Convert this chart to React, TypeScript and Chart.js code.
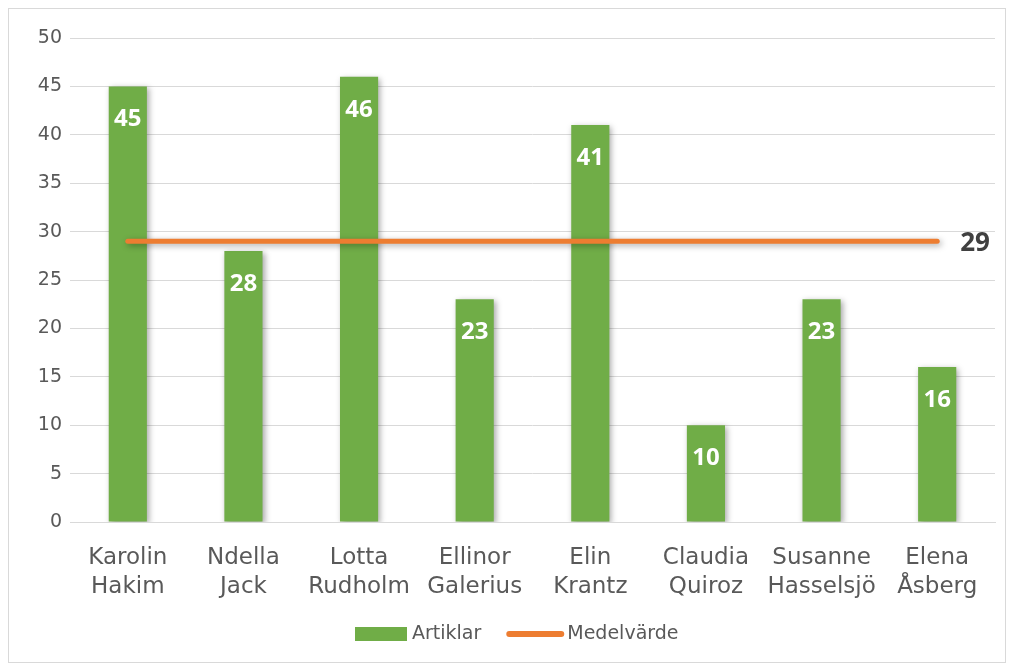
import React, { useEffect, useRef } from "react";
import { Chart, registerables } from "chart.js";

Chart.register(...registerables);

const categories: string[][] = [
  ["Karolin", "Hakim"],
  ["Ndella", "Jack"],
  ["Lotta", "Rudholm"],
  ["Ellinor", "Galerius"],
  ["Elin", "Krantz"],
  ["Claudia", "Quiroz"],
  ["Susanne", "Hasselsjö"],
  ["Elena", "Åsberg"],
];
const articles: number[] = [45, 28, 46, 23, 41, 10, 23, 16];
const average: number[] = [29, 29, 29, 29, 29, 29, 29, 29];
const seriesNames: string[] = ["Artiklar", "Medelvärde"];
const yTicks = { min: 0, max: 50, step: 5 };

const GREEN = "#70AD47";
const ORANGE = "#ED7D31";
const TEXT = "#595959";

export default function App() {
  const ref = useRef<HTMLCanvasElement | null>(null);

  useEffect(() => {
    if (!ref.current) return;

    const shadowPlugin = {
      id: "shadows",
      beforeDatasetDraw(chart: any) {
        const ctx = chart.ctx;
        ctx.save();
        ctx.shadowColor = "rgba(0,0,0,0.35)";
        ctx.shadowBlur = 6;
        ctx.shadowOffsetX = 2;
        ctx.shadowOffsetY = 2;
      },
      afterDatasetDraw(chart: any) {
        chart.ctx.restore();
      },
    };

    const labelPlugin = {
      id: "valueLabels",
      afterDatasetsDraw(chart: any) {
        const ctx = chart.ctx;
        ctx.save();
        const barMeta = chart.getDatasetMeta(0);
        ctx.fillStyle = "#ffffff";
        ctx.font = "bold 24px 'Open Sans'";
        ctx.textAlign = "center";
        ctx.textBaseline = "middle";
        barMeta.data.forEach((el: any, i: number) => {
          ctx.fillText(String(articles[i]), el.x, el.y + 33);
        });
        const lineMeta = chart.getDatasetMeta(1);
        const last = lineMeta.data[lineMeta.data.length - 1];
        ctx.fillStyle = "#404040";
        ctx.font = "bold 26px 'Open Sans'";
        ctx.textAlign = "left";
        ctx.fillText(String(average[average.length - 1]), last.x + 23, last.y + 2);
        ctx.restore();
      },
    };

    const legendPlugin = {
      id: "customLegend",
      afterDraw(chart: any) {
        const ctx = chart.ctx;
        ctx.save();
        ctx.font = "19px 'DejaVu Sans'";
        ctx.textBaseline = "middle";
        ctx.textAlign = "left";
        const cy = 625;
        let x = 346;
        // bar entry
        ctx.fillStyle = GREEN;
        ctx.fillRect(x, cy - 7, 52, 14);
        x += 52 + 5;
        ctx.fillStyle = TEXT;
        ctx.fillText(seriesNames[0], x, cy);
        x += ctx.measureText(seriesNames[0]).width + 28;
        // line entry
        ctx.strokeStyle = ORANGE;
        ctx.lineWidth = 6;
        ctx.lineCap = "round";
        ctx.beginPath();
        ctx.moveTo(x, cy);
        ctx.lineTo(x + 52, cy);
        ctx.stroke();
        x += 52 + 6;
        ctx.fillStyle = TEXT;
        ctx.fillText(seriesNames[1], x, cy);
        ctx.restore();
      },
    };

    const chart = new Chart(ref.current, {
      type: "bar",
      data: {
        labels: categories,
        datasets: [
          {
            type: "bar",
            label: seriesNames[0],
            data: articles,
            backgroundColor: GREEN,
            borderWidth: 0,
            categoryPercentage: 1,
            barPercentage: 0.33,
            order: 1,
          },
          {
            type: "line",
            label: seriesNames[1],
            data: average,
            borderColor: ORANGE,
            backgroundColor: ORANGE,
            borderWidth: 5,
            borderCapStyle: "round",
            pointRadius: 0,
            pointHoverRadius: 0,
            order: 0,
          } as any,
        ],
      },
      options: {
        animation: false,
        responsive: false,
        maintainAspectRatio: false,
        layout: { padding: { top: 29, right: 10, bottom: 52, left: 0 } },
        plugins: {
          tooltip: { enabled: false },
          legend: { display: false },
        },
        scales: {
          x: {
            grid: { display: false },
            border: { display: true, color: "#d9d9d9", width: 1 },
            ticks: {
              color: TEXT,
              font: { family: "'DejaVu Sans'", size: 23, lineHeight: 1.25 },
              padding: 14,
              maxRotation: 0,
              autoSkip: false,
            },
            afterFit(scale: any) {
              scale.height = 88;
            },
          },
          y: {
            min: yTicks.min,
            max: yTicks.max,
            grid: { color: "#d9d9d9", lineWidth: 1, drawTicks: false },
            border: { display: false },
            ticks: {
              stepSize: yTicks.step,
              color: TEXT,
              font: { family: "'DejaVu Sans'", size: 19 },
              padding: 8,
            },
            afterFit(scale: any) {
              scale.width = 61;
            },
          },
        },
      },
      plugins: [shadowPlugin, labelPlugin, legendPlugin],
    } as any);

    return () => chart.destroy();
  }, []);

  return (
    <div
      style={{
        width: 998,
        height: 655,
        border: "1px solid #d9d9d9",
        boxSizing: "border-box",
      }}
    >
      <canvas ref={ref} width={996} height={653} style={{ display: "block" }} />
    </div>
  );
}
